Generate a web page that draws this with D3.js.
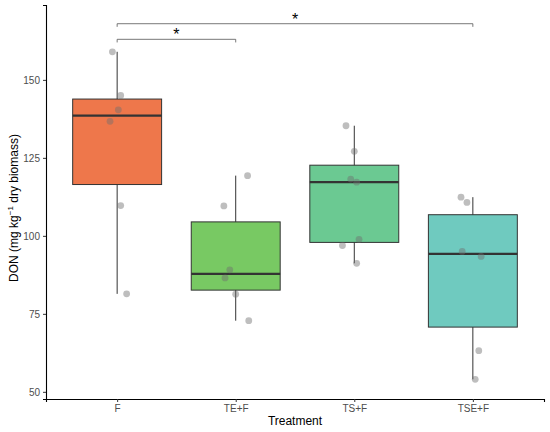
<!DOCTYPE html>
<html>
<head>
<meta charset="utf-8">
<script src="https://cdn.jsdelivr.net/npm/d3@7"></script>
<style>
  body { margin: 0; background: #fff; }
  text { font-family: "Liberation Sans", Arial, sans-serif; }
</style>
</head>
<body>
<div id="chart"></div>
<script>
// treatments and fill colours
var groups = ["F", "TE+F", "TS+F", "TSE+F"];
var colors = ["#EE774B", "#78C963", "#6BC992", "#6FCABF"];

var donF = [159.0, 145.0, 140.4, 136.7, 109.7, 81.4];
var donTE = [119.3, 109.6, 89.1, 86.5, 81.3, 72.8];
var donTS = [135.3, 127.1, 118.2, 117.2, 98.9, 96.9, 91.2];
var donTSE = [112.4, 110.7, 95.0, 93.4, 63.2, 54.0];

// horizontal jitter of each point, in category widths
var jitF = [-0.04, 0.03, 0.01, -0.06, 0.03, 0.08];
var jitTE = [0.10, -0.10, -0.05, -0.09, 0.0, 0.11];
var jitTS = [-0.07, 0.0, -0.03, 0.02, 0.04, -0.10, 0.02];
var jitTSE = [-0.10, -0.05, -0.09, 0.07, 0.05, 0.02];

var yTicks = [50, 75, 100, 125, 150];

// significance brackets: [from, to, y level]
var brackets = [
    {from: "F", to: "TSE+F", y: 168.0, label: "*"},
    {from: "F", to: "TE+F", y: 163.0, label: "*"}
];

var values = [donF, donTE, donTS, donTSE];
var jitters = [jitF, jitTE, jitTS, jitTSE];

var width = 550, height = 432;
var margin = {top: 5, right: 6, bottom: 33, left: 46};

var svg = d3.select("#chart").append("svg")
    .attr("width", width)
    .attr("height", height);

var x = d3.scalePoint()
    .domain(groups)
    .range([margin.left, width - margin.right])
    .padding(0.6);

var y = d3.scaleLinear()
    .domain([47.7, 174])
    .range([height - margin.bottom, margin.top]);

var step = x.step();
var boxW = step * 0.75;

// box stats, same quantile rule as R
var stats = groups.map(function(g, i) {
    var v = values[i].slice().sort(d3.ascending);
    var q1 = d3.quantile(v, 0.25), med = d3.quantile(v, 0.5), q3 = d3.quantile(v, 0.75);
    var iqr = q3 - q1;
    var lo = d3.min(v.filter(function(d) { return d >= q1 - 1.5 * iqr; }));
    var hi = d3.max(v.filter(function(d) { return d <= q3 + 1.5 * iqr; }));
    return {group: g, q1: q1, med: med, q3: q3, lo: lo, hi: hi, color: colors[i]};
});

var boxes = svg.append("g").selectAll("g")
    .data(stats)
    .enter()
    .append("g");

// whiskers
boxes.append("line")
    .attr("x1", function(d) { return x(d.group); })
    .attr("x2", function(d) { return x(d.group); })
    .attr("y1", function(d) { return y(d.hi); })
    .attr("y2", function(d) { return y(d.lo); })
    .attr("stroke", "#333")
    .attr("stroke-width", 1);

boxes.append("rect")
    .attr("x", function(d) { return x(d.group) - boxW / 2; })
    .attr("width", boxW)
    .attr("y", function(d) { return y(d.q3); })
    .attr("height", function(d) { return y(d.q1) - y(d.q3); })
    .attr("fill", function(d) { return d.color; })
    .attr("stroke", "#333")
    .attr("stroke-width", 1);

boxes.append("line")
    .attr("x1", function(d) { return x(d.group) - boxW / 2; })
    .attr("x2", function(d) { return x(d.group) + boxW / 2; })
    .attr("y1", function(d) { return y(d.med); })
    .attr("y2", function(d) { return y(d.med); })
    .attr("stroke", "#333")
    .attr("stroke-width", 2.2);

// jittered points
var pts = [];
groups.forEach(function(g, i) {
    values[i].forEach(function(v, j) {
        pts.push({group: g, value: v, jit: jitters[i][j]});
    });
});

svg.append("g").selectAll("circle")
    .data(pts)
    .enter()
    .append("circle")
    .attr("cx", function(d) { return x(d.group) + d.jit * step; })
    .attr("cy", function(d) { return y(d.value); })
    .attr("r", 3.4)
    .attr("fill", "#6e6e6e")
    .attr("fill-opacity", 0.45);

// axes
var yAxis = svg.append("g")
    .attr("transform", "translate(" + margin.left + ",0)")
    .call(d3.axisLeft(y).tickValues(yTicks).tickSize(3).tickPadding(3));

var xAxis = svg.append("g")
    .attr("transform", "translate(0," + (height - margin.bottom) + ")")
    .call(d3.axisBottom(x).tickSize(3).tickPadding(3));

[yAxis, xAxis].forEach(function(a) {
    a.select(".domain").attr("stroke", "#000").attr("stroke-width", 1.1);
    a.selectAll(".tick line").attr("stroke", "#333");
    a.selectAll(".tick text").attr("fill", "#4d4d4d").style("font-size", "10px");
});

// brackets
var br = svg.append("g").selectAll("g")
    .data(brackets)
    .enter()
    .append("g");

br.append("path")
    .attr("d", function(d) {
        var x1 = x(d.from), x2 = x(d.to), yy = y(d.y), yt = y(d.y - 1);
        return "M" + x1 + "," + yt + "V" + yy + "H" + x2 + "V" + yt;
    })
    .attr("fill", "none")
    .attr("stroke", "#555")
    .attr("stroke-width", 0.8);

br.append("text")
    .attr("x", function(d) { return (x(d.from) + x(d.to)) / 2; })
    .attr("y", function(d) { return y(d.y) + 1; })
    .attr("text-anchor", "middle")
    .style("font-size", "16px")
    .text(function(d) { return d.label; });

// axis titles
svg.append("text")
    .attr("x", (margin.left + width - margin.right) / 2)
    .attr("y", 425)
    .attr("text-anchor", "middle")
    .style("font-size", "12px")
    .text("Treatment");

var yl = svg.append("text")
    .attr("transform", "translate(18," + ((margin.top + height - margin.bottom) / 2 + 6) + ") rotate(-90)")
    .attr("text-anchor", "middle")
    .style("font-size", "12px");
yl.append("tspan").text("DON (mg kg");
yl.append("tspan").attr("dy", -5).style("font-size", "8px").text("\u22121");
yl.append("tspan").attr("dy", 5).text(" dry biomass)");
</script>
</body>
</html>
